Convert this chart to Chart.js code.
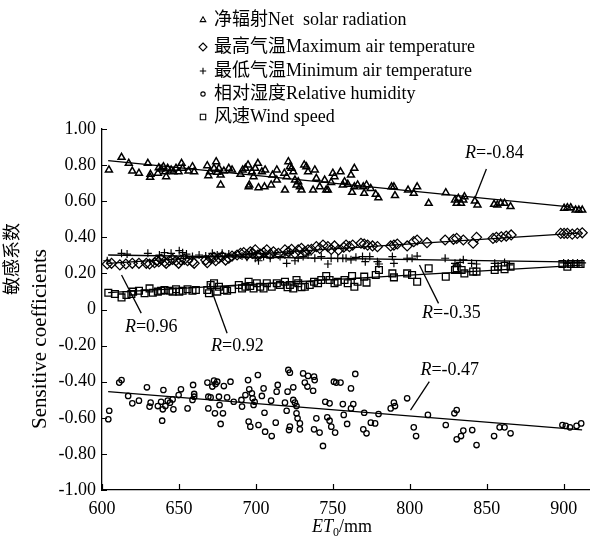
<!DOCTYPE html>
<html>
<head>
<meta charset="utf-8">
<script src="https://cdn.jsdelivr.net/npm/chart.js@4.4.1/dist/chart.umd.min.js"></script>
<style>
  body { margin: 0; background: #fff; }
  #wrap { width: 596px; height: 542px; position: relative; }
</style>
</head>
<body>
<div id="wrap"><canvas id="sensChart"></canvas></div>
<script>
// values: [ET0 (mm), sensitive coefficient]
const netSolar = [
  [604.5,0.773],[612.7,0.843],[617.4,0.810],[619.7,0.767],[624,0.755],[629.8,0.810],[631.3,0.732],[631.5,0.749],
  [636.3,0.755],[636.9,0.786],[638.4,0.778],[639.9,0.791],[641,0.763],[641.7,0.736],[642.7,0.782],[644.9,0.773],
  [646.4,0.763],[648.1,0.782],[649.8,0.763],[651.7,0.810],[652.4,0.782],[656.2,0.767],[658.8,0.791],[659.9,0.763],
  [668.4,0.797],[669.1,0.741],[670.2,0.763],[672.8,0.782],[674.2,0.819],[674.9,0.760],[676,0.782],[677.1,0.690],
  [677.1,0.745],[679.2,0.767],[682.4,0.782],[684.5,0.773],[690,0.749],[691.4,0.773],[693.2,0.782],[694.9,0.801],
  [695.3,0.680],[695.7,0.690],[697.4,0.763],[698.5,0.736],[699.6,0.782],[701.3,0.810],[701.7,0.675],[703.9,0.763],
  [705.6,0.680],[706,0.773],[709.9,0.690],[710.8,0.745],[713.6,0.773],[713.6,0.717],[718.5,0.755],[718.9,0.662],
  [720,0.736],[721.1,0.819],[722.1,0.791],[723.2,0.782],[724.3,0.763],[725.4,0.717],[726.4,0.690],[727.5,0.708],
  [728.6,0.680],[729.6,0.662],[731.4,0.801],[732.8,0.791],[733.9,0.763],[737.2,0.662],[738.3,0.773],[739.3,0.727],
  [741.5,0.680],[744.7,0.717],[745.7,0.662],[746.8,0.662],[748.9,0.704],[750,0.755],[751.1,0.736],[755,0.763],
  [756.5,0.690],[757.6,0.708],[759.7,0.694],[761.8,0.745],[762.5,0.649],[764,0.782],[764,0.680],[766.1,0.690],
  [769.8,0.680],[770.4,0.644],[771.9,0.690],[774.6,0.671],[777.9,0.638],[779.6,0.619],[788.2,0.680],[789.7,0.680],
  [790.4,0.631],[798.9,0.662],[802.6,0.644],[804.8,0.680],[812.3,0.588],[823.4,0.647],[829.4,0.607],[830.5,0.588],
  [831.6,0.616],[833.3,0.588],[834.8,0.607],[835.5,0.625],[842.3,0.601],[844,0.579],[854.8,0.583],[856.9,0.579],
  [859.1,0.588],[861.6,0.588],[865.5,0.570],[900.3,0.561],[902.4,0.564],[904.6,0.564],[907.8,0.551],[909.9,0.551],
  [912.1,0.551]
];
const maxTemp = [
  [603.4,0.252],[606.2,0.256],[611.6,0.247],[615.5,0.252],[619.7,0.256],[624,0.256],[628.8,0.256],[630.9,0.252],
  [634.1,0.259],[635.6,0.270],[636.9,0.265],[638.4,0.278],[640.6,0.265],[641.7,0.256],[643.8,0.270],[645.9,0.278],
  [648.1,0.270],[649.8,0.256],[651.3,0.274],[653.5,0.278],[655.6,0.270],[658.8,0.265],[659.9,0.256],[667.4,0.274],
  [668.4,0.259],[670.6,0.284],[672.8,0.289],[673.9,0.270],[676,0.284],[678.1,0.293],[680.3,0.274],[682.4,0.284],
  [684.5,0.296],[687.8,0.302],[690,0.311],[692.1,0.315],[694.2,0.302],[696.4,0.320],[697.9,0.311],[699.6,0.330],
  [701.3,0.302],[702.8,0.307],[705,0.315],[707.1,0.330],[709.3,0.307],[711.4,0.320],[714.6,0.311],[718.9,0.330],
  [721.1,0.320],[723.2,0.333],[725.4,0.311],[727.5,0.330],[729.6,0.339],[731.8,0.320],[733.9,0.330],[736.1,0.333],
  [739.3,0.348],[741.5,0.339],[743.6,0.357],[746.8,0.348],[749,0.333],[751.1,0.352],[753.7,0.330],[757.1,0.345],
  [758.6,0.357],[760.8,0.348],[762.9,0.357],[768.3,0.367],[770.4,0.363],[772.6,0.357],[775.8,0.352],[779,0.348],
  [787.6,0.352],[789.7,0.357],[791.9,0.363],[798.3,0.352],[802.6,0.376],[804.8,0.385],[811.2,0.370],[823,0.385],
  [828.4,0.389],[830.5,0.394],[834.8,0.385],[841.2,0.367],[843.4,0.400],[854.1,0.394],[856.3,0.400],[859.5,0.403],
  [862.7,0.407],[865.9,0.413],[898.1,0.422],[900.3,0.422],[902.4,0.422],[905.6,0.418],[908.9,0.422],[912.1,0.425]
];
const minTemp = [
  [603.4,0.270],[612.7,0.311],[616.3,0.307],[629.8,0.311],[637.3,0.302],[640.6,0.315],[644.9,0.311],[650.2,0.326],
  [652.4,0.315],[654.9,0.307],[658.8,0.293],[663.1,0.302],[667.4,0.296],[671.7,0.311],[674.9,0.302],[678.1,0.311],
  [682.4,0.307],[686.7,0.302],[691,0.296],[694.2,0.289],[697.4,0.311],[699.6,0.284],[701.7,0.270],[705,0.293],
  [706,0.307],[709.3,0.284],[712.5,0.307],[715.7,0.293],[718.9,0.302],[720,0.256],[722.1,0.311],[725.4,0.270],
  [727.5,0.284],[730.7,0.293],[733.9,0.302],[738.3,0.284],[742.5,0.293],[746.8,0.252],[748.9,0.284],[753.2,0.284],
  [756.5,0.284],[758.6,0.284],[761.8,0.275],[765,0.289],[769.3,0.293],[771.1,0.265],[774,0.293],[779,0.265],
  [780,0.252],[788.7,0.293],[789.7,0.256],[798.3,0.284],[801.5,0.284],[804.8,0.296],[823,0.284],[829.4,0.256],
  [831.2,0.241],[832.7,0.261],[834.8,0.275],[840.2,0.256],[843.4,0.252],[855.2,0.256],[857.4,0.241],[861.6,0.261],
  [864.8,0.247],[900,0.258],[903,0.258],[906,0.258],[909,0.258],[912,0.258]
];
const humidity = [
  [604.1,-0.608],[604.7,-0.561],[611.2,-0.405],[612.7,-0.391],[617,-0.479],[619.7,-0.520],[624,-0.505],[629.2,-0.431],
  [630.9,-0.538],[631.6,-0.516],[636.3,-0.535],[638.4,-0.511],[639.1,-0.616],[639.5,-0.553],[639.9,-0.446],[641.2,-0.535],
  [642.7,-0.505],[644.2,-0.516],[645.9,-0.498],[646.4,-0.553],[649.8,-0.474],[651.3,-0.442],[655.6,-0.548],[658.8,-0.501],
  [659.2,-0.418],[659.9,-0.468],[659.9,-0.483],[668.5,-0.405],[669.1,-0.483],[669.1,-0.548],[670.6,-0.487],[671.7,-0.427],
  [672.8,-0.394],[673.4,-0.575],[673.8,-0.413],[674.9,-0.400],[676,-0.483],[676.4,-0.529],[677.1,-0.634],[678.6,-0.575],
  [679.2,-0.424],[681.3,-0.487],[683.5,-0.400],[685.6,-0.511],[690.6,-0.501],[691,-0.538],[693.2,-0.474],[694.9,-0.391],
  [695.3,-0.621],[695.7,-0.442],[696.4,-0.649],[697.4,-0.464],[697.9,-0.492],[698.5,-0.529],[699.2,-0.511],[701.3,-0.363],
  [701.7,-0.640],[703.9,-0.479],[705,-0.437],[705.6,-0.572],[706,-0.677],[709.9,-0.505],[710.3,-0.701],[712.9,-0.627],
  [713.5,-0.455],[714.2,-0.418],[718.9,-0.516],[720,-0.561],[720.6,-0.455],[721.1,-0.335],[721.5,-0.668],[722.1,-0.350],
  [722.1,-0.649],[724.3,-0.431],[724.3,-0.501],[725.4,-0.516],[726.4,-0.535],[726.4,-0.575],[727.1,-0.603],[728.6,-0.631],
  [728.6,-0.664],[730.7,-0.354],[731.8,-0.405],[733.5,-0.427],[733.9,-0.368],[737.2,-0.450],[737.8,-0.664],[737.8,-0.372],
  [738.2,-0.391],[739.3,-0.603],[741.4,-0.682],[743.6,-0.756],[745.1,-0.511],[746.4,-0.597],[747.9,-0.520],[747.9,-0.616],
  [749,-0.649],[750.7,-0.400],[751.5,-0.682],[752.2,-0.405],[755,-0.405],[756.5,-0.524],[757.1,-0.584],[759.3,-0.634],
  [761.8,-0.548],[761.8,-0.437],[763.3,-0.524],[764.6,-0.357],[769.8,-0.664],[770.4,-0.572],[771.9,-0.686],[774.7,-0.627],
  [777.5,-0.631],[779.7,-0.579],[787.6,-0.548],[789.7,-0.516],[790.4,-0.535],[798.3,-0.492],[802.6,-0.653],[804.1,-0.701],
  [811.8,-0.584],[823.4,-0.640],[829,-0.575],[830.5,-0.557],[830.5,-0.719],[833.3,-0.701],[834.8,-0.671],[840.6,-0.668],
  [843.4,-0.751],[854.8,-0.701],[858.4,-0.653],[861.6,-0.653],[865.5,-0.686],[899.2,-0.640],[901.4,-0.645],[904.1,-0.653],
  [908.4,-0.645],[911.4,-0.631]
];
const windSpeed = [
  [604.1,0.093],[608.4,0.086],[612.7,0.067],[615.9,0.080],[619.1,0.086],[620.2,0.099],[624,0.104],[627.7,0.090],
  [630.9,0.117],[633,0.093],[636.3,0.099],[638.4,0.104],[640.6,0.108],[643.8,0.104],[645.9,0.099],[648.1,0.112],
  [650.2,0.099],[652.4,0.104],[655.6,0.112],[658.8,0.104],[661,0.108],[668.4,0.108],[669.5,0.090],[670.6,0.136],
  [672.8,0.145],[674.9,0.099],[676,0.126],[679.2,0.108],[681.3,0.104],[684.5,0.112],[688.9,0.136],[691,0.117],
  [693.2,0.126],[695.3,0.154],[696.3,0.130],[698.5,0.117],[700.6,0.145],[702.8,0.126],[705,0.117],[707.1,0.145],
  [710.3,0.126],[713.6,0.145],[715.7,0.136],[718.9,0.154],[720.6,0.123],[722.1,0.136],[724.3,0.117],[726.4,0.163],
  [727.5,0.145],[729.6,0.123],[731.8,0.126],[735,0.136],[737.8,0.154],[740.4,0.145],[742.5,0.163],[745.7,0.186],
  [747.9,0.163],[751.1,0.145],[753.2,0.154],[757.6,0.163],[759.7,0.145],[762.5,0.186],[764,0.126],[766.1,0.154],
  [770.4,0.182],[771.9,0.149],[777.9,0.191],[780,0.219],[788.7,0.200],[789.7,0.178],[798.3,0.200],[801.5,0.191],
  [804.8,0.154],[812.3,0.228],[823.4,0.182],[829.4,0.219],[830.5,0.228],[833.7,0.219],[835.5,0.200],[841.2,0.210],
  [843.4,0.210],[855.2,0.219],[857.4,0.237],[861.6,0.223],[865.5,0.237],[899.2,0.252],[902.4,0.237],[904.6,0.252],
  [907.8,0.252],[911,0.252]
];

// fitted lines, end points
const trendX = [604, 912];
const netTrend = [0.825, 0.562];
const maxTrend = [0.256, 0.425];
const minTrend = [0.302, 0.262];
const humTrend = [-0.455, -0.667];
const windTrend = [0.093, 0.246];

const seriesNames = [
  '净辐射Net  solar radiation',
  '最高气温Maximum air temperature',
  '最低气温Minimum air temperature',
  '相对湿度Relative humidity',
  '风速Wind speed'
];
const rValues = ['-0.84', '-0.35', '0.96', '0.92', '-0.47'];
const xTicks = [600, 650, 700, 750, 800, 850, 900];
const yTicks = [-1, -0.8, -0.6, -0.4, -0.2, 0, 0.2, 0.4, 0.6, 0.8, 1];

const FONT = '"Liberation Serif", "Times New Roman", "Noto Sans CJK SC", serif';

// where the R labels and their leader lines sit, in axis units
const rNotes = [
  { r: rValues[0], x: 855, y: 0.867, from: [849.8, 0.778], to: [842.3, 0.616] },
  { r: rValues[1], x: 827, y: -0.019, from: [818.7, 0.034], to: [806.3, 0.247] },
  { r: rValues[2], x: 632, y: -0.097, from: [625.5, -0.02], to: [612.7, 0.191] },
  { r: rValues[3], x: 688, y: -0.202, from: [681.3, -0.132], to: [669.5, 0.145] },
  { r: rValues[4], x: 826, y: -0.335, from: [812.7, -0.400], to: [800.5, -0.557] }
];

const markers = [
  { style: 'triangle', radius: 4, width: 1.5 },
  { style: 'rectRot', radius: 5, width: 1.2 },
  { style: 'cross', radius: 4, width: 1.2 },
  { style: 'circle', radius: 2.7, width: 1.3 },
  { style: 'rect', radius: 4.8, width: 1.3 }
];

const toXY = arr => arr.map(p => ({ x: p[0], y: p[1] }));
const trendXY = vals => trendX.map((x, i) => ({ x: x, y: vals[i] }));

const pointSets = [netSolar, maxTemp, minTemp, humidity, windSpeed];
const trendSets = [netTrend, maxTrend, minTrend, humTrend, windTrend];

const datasets = [];
trendSets.forEach(t => {
  datasets.push({
    data: trendXY(t),
    showLine: true,
    borderColor: '#000',
    borderWidth: 1.3,
    pointRadius: 0
  });
});
pointSets.forEach((pts, i) => {
  datasets.push({
    label: seriesNames[i],
    data: toXY(pts),
    pointStyle: markers[i].style,
    pointRadius: markers[i].radius,
    pointBorderWidth: markers[i].width,
    borderColor: '#000',
    backgroundColor: 'rgba(0,0,0,0)'
  });
});

// tick marks pointing into the plot
const innerTicks = {
  id: 'innerTicks',
  afterDraw(chart) {
    const { ctx, chartArea, scales } = chart;
    ctx.save();
    ctx.strokeStyle = '#000';
    ctx.lineWidth = 1.2;
    ctx.beginPath();
    yTicks.forEach(v => {
      const py = Math.round(scales.y.getPixelForValue(v)) + 0.5;
      ctx.moveTo(chartArea.left, py);
      ctx.lineTo(chartArea.left + 5, py);
    });
    xTicks.forEach(v => {
      const px = Math.round(scales.x.getPixelForValue(v)) + 0.5;
      ctx.moveTo(px, chartArea.bottom);
      ctx.lineTo(px, chartArea.bottom - 6);
    });
    ctx.stroke();
    ctx.restore();
  }
};

function drawMarker(ctx, style, x, y, r) {
  ctx.beginPath();
  if (style === 'triangle') {
    ctx.moveTo(x, y - r);
    ctx.lineTo(x + r * 0.866, y + r / 2);
    ctx.lineTo(x - r * 0.866, y + r / 2);
    ctx.closePath();
  } else if (style === 'rectRot') {
    ctx.moveTo(x, y - r); ctx.lineTo(x + r, y); ctx.lineTo(x, y + r); ctx.lineTo(x - r, y);
    ctx.closePath();
  } else if (style === 'cross') {
    ctx.moveTo(x - r, y); ctx.lineTo(x + r, y);
    ctx.moveTo(x, y - r); ctx.lineTo(x, y + r);
  } else if (style === 'circle') {
    ctx.arc(x, y, r, 0, Math.PI * 2);
  } else {
    const s = r * Math.SQRT1_2;
    ctx.rect(x - s, y - s, 2 * s, 2 * s);
  }
  ctx.stroke();
}

const legendRows = [20, 47, 71, 94, 117];

const extras = {
  id: 'extras',
  afterDraw(chart) {
    const { ctx, scales } = chart;
    ctx.save();
    ctx.fillStyle = '#000';
    ctx.strokeStyle = '#000';

    // legend
    ctx.font = '18px ' + FONT;
    ctx.textBaseline = 'middle';
    ctx.textAlign = 'left';
    seriesNames.forEach((name, i) => {
      ctx.lineWidth = 1.1;
      drawMarker(ctx, markers[i].style, 203, legendRows[i], markers[i].radius * 0.8);
      ctx.fillText(name, 214, legendRows[i]);
    });

    // R labels with leader lines
    ctx.lineWidth = 1.3;
    rNotes.forEach(n => {
      ctx.beginPath();
      ctx.moveTo(scales.x.getPixelForValue(n.from[0]), scales.y.getPixelForValue(n.from[1]));
      ctx.lineTo(scales.x.getPixelForValue(n.to[0]), scales.y.getPixelForValue(n.to[1]));
      ctx.stroke();
      const cx = scales.x.getPixelForValue(n.x);
      const cy = scales.y.getPixelForValue(n.y);
      ctx.font = 'italic 18px ' + FONT;
      const wR = ctx.measureText('R').width;
      ctx.font = '18px ' + FONT;
      const rest = '=' + n.r;
      const wRest = ctx.measureText(rest).width;
      let x0 = cx - (wR + wRest) / 2;
      ctx.font = 'italic 18px ' + FONT;
      ctx.fillText('R', x0, cy);
      ctx.font = '18px ' + FONT;
      ctx.fillText(rest, x0 + wR, cy);
    });

    // y title, two columns
    ctx.save();
    ctx.translate(13, 259);
    ctx.rotate(-Math.PI / 2);
    ctx.textAlign = 'center';
    ctx.font = '18px ' + FONT;
    ctx.fillText('敏感系数', 0, 0);
    ctx.restore();
    ctx.save();
    ctx.translate(40, 339);
    ctx.rotate(-Math.PI / 2);
    ctx.textAlign = 'center';
    ctx.font = '21px ' + FONT;
    ctx.fillText('Sensitive coefficients', 0, 0);
    ctx.restore();

    // x title: ET0/mm
    ctx.textAlign = 'left';
    ctx.font = 'italic 18px ' + FONT;
    const wET = ctx.measureText('ET').width;
    ctx.font = '12px ' + FONT;
    const w0 = ctx.measureText('0').width;
    ctx.font = '18px ' + FONT;
    const wMm = ctx.measureText('/mm').width;
    let tx = 342 - (wET + w0 + wMm) / 2;
    const ty = 527;
    ctx.font = 'italic 18px ' + FONT;
    ctx.fillText('ET', tx, ty);
    ctx.font = '12px ' + FONT;
    ctx.fillText('0', tx + wET, ty + 6);
    ctx.font = '18px ' + FONT;
    ctx.fillText('/mm', tx + wET + w0, ty);
    ctx.restore();
  }
};

new Chart(document.getElementById('sensChart'), {
  type: 'scatter',
  data: { datasets: datasets },
  options: {
    responsive: true,
    maintainAspectRatio: false,
    animation: false,
    layout: { padding: { top: 129, left: 0, right: 1, bottom: 0 } },
    plugins: {
      legend: { display: false },
      tooltip: { enabled: false }
    },
    scales: {
      x: {
        type: 'linear',
        min: 600,
        max: 917,
        afterBuildTicks: s => { s.ticks = xTicks.map(v => ({ value: v })); },
        afterFit: s => { s.height = 52; },
        grid: { display: false, drawTicks: false },
        border: { display: true, color: '#000', width: 1.3 },
        ticks: { color: '#000', padding: 8, font: { family: FONT, size: 18 }, maxRotation: 0 }
      },
      y: {
        type: 'linear',
        min: -1,
        max: 1,
        afterBuildTicks: s => { s.ticks = yTicks.map(v => ({ value: v })); },
        afterFit: s => { s.width = 102; },
        grid: { display: false, drawTicks: false },
        border: { display: true, color: '#000', width: 1.3 },
        ticks: {
          color: '#000',
          padding: 6,
          font: { family: FONT, size: 18 },
          callback: v => (Math.abs(v) < 1e-9 ? '0' : v.toFixed(2))
        }
      }
    }
  },
  plugins: [innerTicks, extras]
});
</script>
</body>
</html>
